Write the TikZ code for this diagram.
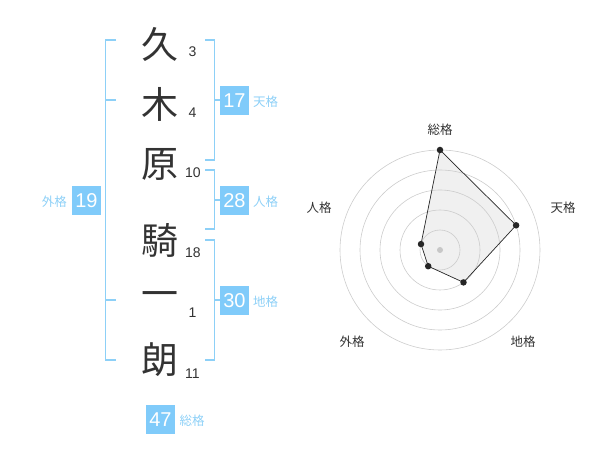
\documentclass[tikz,border=0pt]{standalone}
\usepackage{fontspec}
\setmainfont{Liberation Sans}
\newfontfamily\cjk{Noto Sans CJK JP}
\definecolor{bl}{HTML}{80CBFA}
\definecolor{bll}{HTML}{8DD0F7}
\definecolor{txt}{HTML}{333333}
\begin{document}
\begin{tikzpicture}[x=1pt,y=-1pt,
  kanji/.style={font=\cjk\fontsize{37}{37}\selectfont, text=txt, inner sep=0pt},
  strokes/.style={font=\fontsize{14}{14}\selectfont, text=txt, inner sep=0pt, anchor=west},
  brk/.style={draw=bll, line width=1.6pt},
  nbox/.style={fill=bl, text=white, minimum width=29pt, minimum height=29pt, inner sep=0pt, font=\fontsize{20}{20}\selectfont},
  lab/.style={font=\cjk\fontsize{12.5}{12.5}\selectfont, text=bll, inner sep=0pt},
  ring/.style={draw=black!20, line width=0.6pt},
  rlab/.style={font=\cjk\fontsize{12.5}{12.5}\selectfont, text=txt, inner sep=0pt},
  pt/.style={circle, fill=black!85, inner sep=0pt, minimum size=6.5pt}
]
\useasboundingbox (0,0) rectangle (600,470);
% characters
\node[kanji] (k1) at (160,44) {久};
\node[kanji] (k2) at (160,104) {木};
\node[kanji] (k3) at (160,164) {原};
\node[kanji] (k4) at (160,240) {騎};
\node[kanji] (k5) at (160,300) {一};
\node[kanji] (k6) at (160,360) {朗};
\node[strokes] (s1) at (188.5,52) {3};
\node[strokes] (s2) at (188.5,113) {4};
\node[strokes] (s3) at (185,173) {10};
\node[strokes] (s4) at (185,253) {18};
\node[strokes] (s5) at (188.5,313) {1};
\node[strokes] (s6) at (185,374) {11};
% left bracket (gaikaku)
\draw[brk] (116,40) -- (105.5,40) -- (105.5,360) -- (116,360);
\draw[brk] (105.5,100) -- (116,100);
\draw[brk] (105.5,300) -- (116,300);
% right brackets
\draw[brk] (205,40) -- (214.5,40) -- (214.5,160) -- (205,160);
\draw[brk] (214.5,100) -- (220,100);
\draw[brk] (205,170) -- (214.5,170) -- (214.5,229) -- (205,229);
\draw[brk] (214.5,200) -- (220,200);
\draw[brk] (205,240) -- (214.5,240) -- (214.5,360) -- (205,360);
\draw[brk] (214.5,300) -- (220,300);
% boxes
\node[nbox] (b17) at (234.5,100.5) {17};
\node[lab, anchor=west] (l17) at (253,102) {天格};
\node[nbox] (b28) at (234.5,200.5) {28};
\node[lab, anchor=west] (l28) at (253,202) {人格};
\node[nbox] (b30) at (234.5,300.5) {30};
\node[lab, anchor=west] (l30) at (253,302) {地格};
\node[nbox] (b19) at (86.5,200.5) {19};
\node[lab, anchor=east] (l19) at (67,202) {外格};
\node[nbox] (b47) at (160.5,419.5) {47};
\node[lab, anchor=west] (l47) at (179.5,421) {総格};
% radar
\coordinate (c) at (440,250);
\coordinate (v1) at (440,150);
\coordinate (v2) at (516.1,225.3);
\coordinate (v3) at (463.5,282.4);
\coordinate (v4) at (428.2,266.2);
\coordinate (v5) at (421,244.1);
\fill[black!6] (v1) -- (v2) -- (v3) -- (v4) -- (v5) -- cycle;
\foreach \r in {20,40,60,80,100} \draw[ring] (c) circle (\r);
\draw[black!85, line width=0.7pt] (v1) -- (v2) -- (v3) -- (v4) -- (v5) -- cycle;
\node[circle, fill=black!22, inner sep=0pt, minimum size=6pt] (ctr) at (c) {};
\node[pt] (q1) at (v1) {};
\node[pt] (q2) at (v2) {};
\node[pt] (q3) at (v3) {};
\node[pt] (q4) at (v4) {};
\node[pt] (q5) at (v5) {};
\node[rlab] (r1) at (440,130) {総格};
\node[rlab] (r2) at (563,208) {天格};
\node[rlab] (r3) at (523,342) {地格};
\node[rlab] (r4) at (352,342) {外格};
\node[rlab] (r5) at (319,208) {人格};
\end{tikzpicture}
\end{document}
